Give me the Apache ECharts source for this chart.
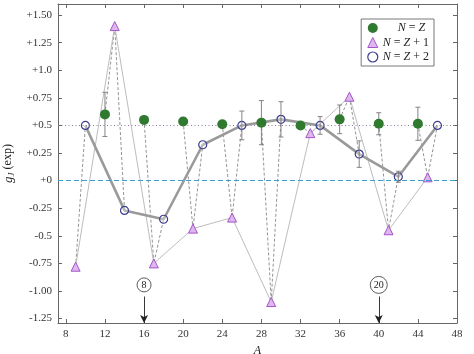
<!DOCTYPE html>
<html>
<head>
<meta charset="utf-8">
<script src="https://cdn.jsdelivr.net/npm/echarts@6/dist/echarts.min.js"></script>
<style>
  html, body { margin: 0; padding: 0; background: #fff; }
  #chart { width: 474px; height: 354px; }
</style>
</head>
<body>
<div id="chart"></div>
<script>
// N = Z
const aEven = [12, 16, 20, 24, 28, 32, 36, 40, 44];
const gEven = [0.60, 0.55, 0.535, 0.51, 0.525, 0.50, 0.555, 0.515, 0.515];
const errEven = [0.20, 0, 0, 0, 0.20, 0, 0.13, 0.10, 0.15];
// N = Z + 1
const aOdd = [9, 13, 17, 21, 25, 29, 33, 37, 41, 45];
const gOdd = [-0.78, 1.40, -0.75, -0.435, -0.335, -1.10, 0.43, 0.76, -0.45, 0.03];
// N = Z + 2
const aPlus2 = [10, 14, 18, 22, 26, 30, 34, 38, 42, 46];
const gPlus2 = [0.50, -0.27, -0.35, 0.325, 0.50, 0.555, 0.50, 0.24, 0.035, 0.50];
const errPlus2 = [0, 0, 0, 0, 0.13, 0.16, 0.08, 0.12, 0.05, 0];

const xTicks = [8, 12, 16, 20, 24, 28, 32, 36, 40, 44, 48];
const yTicks = [-1.25, -1, -0.75, -0.5, -0.25, 0, 0.25, 0.5, 0.75, 1, 1.25, 1.5];
const yTickLabels = ['-1.25', '-1.00', '-0.75', '-0.5', '-0.25', '+0', '+0.25', '+0.5', '+0.75', '+1.0', '+1.25', '+1.50'];

// magic numbers marked with arrows
const magicN = [8, 20];
const magicA = [16, 40];

const serif = 'Liberation Serif';
const axisColor = '#666';

// dashed line joining the isotopes of one element (same Z)
let chains = {};
aEven.forEach((a, i) => { (chains[a / 2] = chains[a / 2] || []).push([a, gEven[i]]); });
aOdd.forEach((a, i) => { let z = (a - 1) / 2; (chains[z] = chains[z] || []).push([a, gOdd[i]]); });
aPlus2.forEach((a, i) => { let z = (a - 2) / 2; (chains[z] = chains[z] || []).push([a, gPlus2[i]]); });

let chainSeries = Object.keys(chains).map(z => ({
  type: 'line',
  data: chains[z].sort((p, q) => p[0] - q[0]),
  symbol: 'none',
  silent: true,
  z: 1,
  lineStyle: { color: '#888', width: 0.9, type: [3, 2] }
}));

let errData = [];
aEven.forEach((a, i) => { if (errEven[i] > 0) errData.push([a, gEven[i], errEven[i]]); });
aPlus2.forEach((a, i) => { if (errPlus2[i] > 0) errData.push([a, gPlus2[i], errPlus2[i]]); });

function renderErr(params, api) {
  const x = api.value(0), y = api.value(1), e = api.value(2);
  const hi = api.coord([x, y + e]);
  const lo = api.coord([x, y - e]);
  const w = 2.5;
  const style = { stroke: '#777', lineWidth: 0.9 };
  return {
    type: 'group',
    children: [
      { type: 'line', shape: { x1: hi[0], y1: hi[1], x2: lo[0], y2: lo[1] }, style: style },
      { type: 'line', shape: { x1: hi[0] - w, y1: hi[1], x2: hi[0] + w, y2: hi[1] }, style: style },
      { type: 'line', shape: { x1: lo[0] - w, y1: lo[1], x2: lo[0] + w, y2: lo[1] }, style: style }
    ]
  };
}

const legendRich = { it: { fontStyle: 'italic', fontFamily: serif, fontSize: 12, color: '#222' } };
const legendNames = {
  'N = Z': '     {it|N} = {it|Z}',
  'N = Z + 1': '{it|N} = {it|Z} + 1',
  'N = Z + 2': '{it|N} = {it|Z} + 2'
};

let chart = echarts.init(document.getElementById('chart'));
chart.setOption({
  animation: false,
  backgroundColor: '#fff',
  grid: { left: 58, right: 17, top: 4, bottom: 31, outerBoundsMode: 'none' },
  legend: {
    right: 40, top: 19,
    orient: 'vertical',
    itemGap: 2.5,
    itemWidth: 10, itemHeight: 10,
    padding: [3, 5, 3, 6],
    borderColor: '#555', borderWidth: 0.8,
    backgroundColor: '#fff',
    formatter: name => legendNames[name],
    textStyle: { fontFamily: serif, fontSize: 12, color: '#222', rich: legendRich },
    data: [
      { name: 'N = Z', icon: 'circle', itemStyle: { color: '#2f7a2f', borderWidth: 0 } },
      { name: 'N = Z + 1', icon: 'triangle', itemStyle: { color: '#dcb8ee', borderColor: '#a653c9', borderWidth: 1 } },
      { name: 'N = Z + 2', icon: 'circle', itemStyle: { color: '#fff', borderColor: '#3c3c8c', borderWidth: 1.2 } }
    ]
  },
  xAxis: [{
    type: 'value', min: 7.2, max: 48,
    name: 'A', nameLocation: 'middle', nameGap: 20,
    nameTextStyle: { fontFamily: serif, fontStyle: 'italic', fontSize: 12, color: '#222' },
    axisLine: { onZero: false, lineStyle: { color: axisColor, width: 1 } },
    axisTick: { inside: true, length: 4, customValues: xTicks, lineStyle: { color: axisColor } },
    axisLabel: { customValues: xTicks, fontFamily: serif, fontSize: 11, color: '#333', margin: 6 },
    splitLine: { show: false }
  }, {
    type: 'value', min: 7.2, max: 48, position: 'top',
    axisLine: { show: true, onZero: false, lineStyle: { color: axisColor, width: 1 } },
    axisTick: { inside: true, length: 4, customValues: xTicks, lineStyle: { color: axisColor } },
    axisLabel: { show: false },
    splitLine: { show: false }
  }],
  yAxis: [{
    type: 'value', min: -1.29, max: 1.6,
    name: '{g|g}{j|J} (exp)', nameLocation: 'middle', nameGap: 37, nameRotate: 90,
    nameTextStyle: {
      fontFamily: serif, fontSize: 12, color: '#222',
      rich: {
        g: { fontFamily: serif, fontStyle: 'italic', fontSize: 13, color: '#222' },
        j: { fontFamily: serif, fontStyle: 'italic', fontSize: 9, color: '#222', padding: [6, 0, 0, 0] }
      }
    },
    axisLine: { show: true, onZero: false, lineStyle: { color: axisColor, width: 1 } },
    axisTick: { show: true, inside: true, length: 4, customValues: yTicks, lineStyle: { color: axisColor } },
    axisLabel: {
      customValues: yTicks, fontFamily: serif, fontSize: 11, color: '#333', margin: 6,
      formatter: v => yTickLabels[yTicks.findIndex(t => Math.abs(t - v) < 1e-6)]
    },
    splitLine: { show: false }
  }, {
    type: 'value', min: -1.29, max: 1.6, position: 'right',
    axisLine: { show: true, onZero: false, lineStyle: { color: axisColor, width: 1 } },
    axisTick: { show: true, inside: true, length: 4, customValues: yTicks, lineStyle: { color: axisColor } },
    axisLabel: { show: false },
    splitLine: { show: false }
  }],
  series: chainSeries.concat([
    {
      name: 'N = Z + 1',
      type: 'line',
      data: aOdd.map((a, i) => [a, gOdd[i]]),
      z: 3,
      lineStyle: { color: '#bdbdbd', width: 1 },
      symbol: 'triangle', symbolSize: 9,
      itemStyle: { color: '#dcb8ee', borderColor: '#a653c9', borderWidth: 1 }
    },
    {
      name: 'N = Z + 2',
      type: 'line',
      data: aPlus2.map((a, i) => [a, gPlus2[i]]),
      z: 4,
      lineStyle: { color: '#9a9a9a', width: 2.6 },
      symbol: 'circle', symbolSize: 8,
      itemStyle: {
        color: 'rgba(255,255,255,0.3)', borderWidth: 1.2,
        borderColor: p => p.dataIndex === 0 ? '#3aa6d6' : '#3c3c8c'
      }
    },
    {
      type: 'custom',
      renderItem: renderErr,
      data: errData,
      z: 5,
      silent: true
    },
    {
      name: 'N = Z',
      type: 'scatter',
      data: aEven.map((a, i) => [a, gEven[i]]),
      z: 6,
      symbol: 'circle', symbolSize: 10,
      itemStyle: { color: '#2f7a2f', opacity: 1 },
      markLine: {
        silent: true,
        symbol: 'none',
        label: { show: false },
        data: [
          { yAxis: 0.5, lineStyle: { color: '#8c7a9c', width: 1.1, type: [1, 2.5] } },
          { yAxis: 0, lineStyle: { color: '#3a9fd3', width: 1, type: [5, 3] } }
        ]
      }
    },
    {
      type: 'scatter',
      data: [],
      silent: true,
      markLine: {
        silent: true,
        symbol: ['none', 'arrow'],
        symbolSize: [6, 8],
        label: { show: false },
        lineStyle: { color: '#222', width: 0.9, type: 'solid' },
        data: magicA.map(a => [{ coord: [a, -1.05] }, { coord: [a, -1.29] }])
      },
      markPoint: {
        silent: true,
        symbol: 'circle',
        itemStyle: { color: '#fff', borderColor: '#333', borderWidth: 0.8 },
        label: { show: true, color: '#222', fontFamily: serif, fontSize: 10, formatter: p => p.value },
        data: magicA.map((a, i) => ({ coord: [a, -0.945], value: magicN[i], symbolSize: magicN[i] < 10 ? 14 : 17 }))
      }
    }
  ])
});
</script>
</body>
</html>
